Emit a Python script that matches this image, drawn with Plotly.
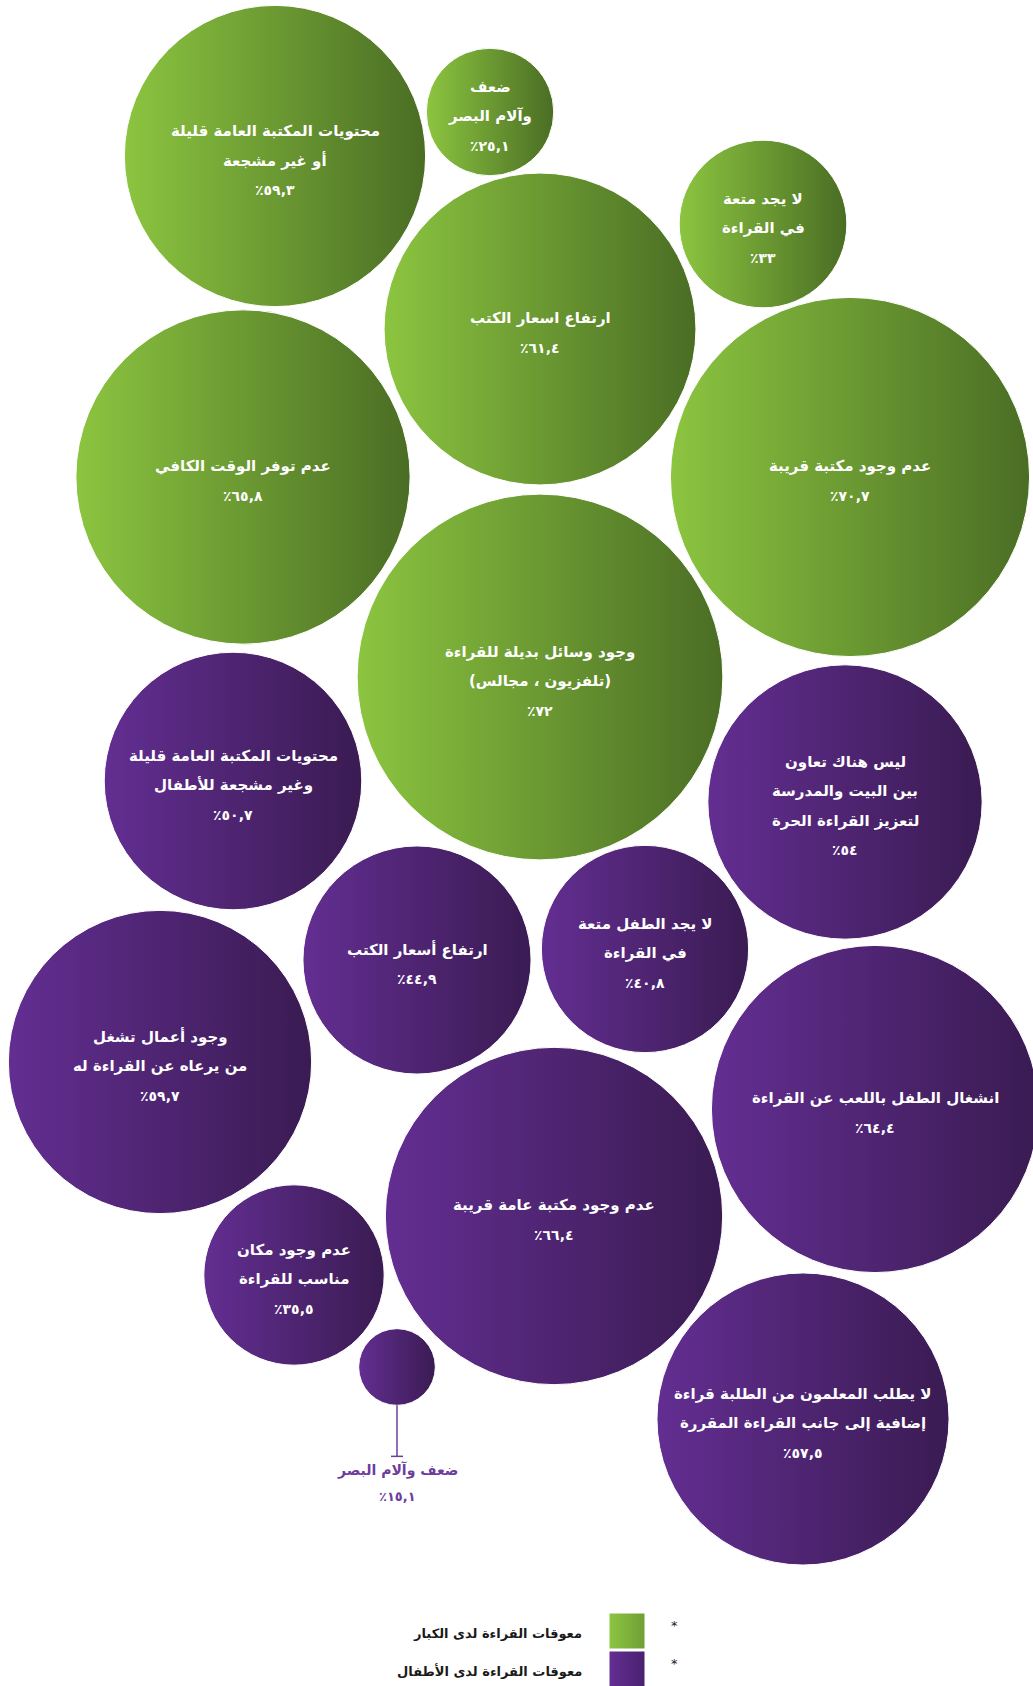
import plotly.graph_objects as go

W, H = 1033, 1686

# ---------------- data ----------------
adult_labels = [
    "محتويات المكتبة العامة قليلة|أو غير مشجعة",
    "ضعف|وآلام البصر",
    "لا يجد متعة|في القراءة",
    "ارتفاع اسعار الكتب",
    "عدم توفر الوقت الكافي",
    "عدم وجود مكتبة قريبة",
    "وجود وسائل بديلة للقراءة|(تلفزيون ، مجالس)",
]
adult_values = [59.3, 25.1, 33, 61.4, 65.8, 70.7, 72]

child_labels = [
    "محتويات المكتبة العامة قليلة|وغير مشجعة للأطفال",
    "ليس هناك تعاون|بين البيت والمدرسة|لتعزيز القراءة الحرة",
    "ارتفاع أسعار الكتب",
    "لا يجد الطفل متعة|في القراءة",
    "وجود أعمال تشغل|من يرعاه عن القراءة له",
    "انشغال الطفل باللعب عن القراءة",
    "عدم وجود مكتبة عامة قريبة",
    "عدم وجود مكان|مناسب للقراءة",
    "ضعف وآلام البصر",
    "لا يطلب المعلمون من الطلبة قراءة|إضافية إلى جانب القراءة المقررة",
]
child_values = [50.7, 54, 44.9, 40.8, 59.7, 64.4, 66.4, 35.5, 15.1, 57.5]

legend_labels = ["معوقات القراءة لدى الكبار", "معوقات القراءة لدى الأطفال"]

# ---------------- layout (pixel positions of bubble centres) ----------------
adult_pos = [(275, 156), (490, 112), (763, 224), (540, 329), (243, 477), (850, 477), (540, 677)]
child_pos = [(233, 781), (845, 802), (417, 960), (645, 949), (160, 1062), (875, 1109),
             (554, 1216), (294, 1275), (397, 1367), (803, 1419)]

PX_PER_PCT = 2.54          # bubble radius in px per percentage point
SMALL = 20                 # bubbles below this get an outside label
LINE_GAP = 29.5
FONT = "DejaVu Sans"

GREEN_L, GREEN_R = "#8cc540", "#4a6d24"
PURP_L, PURP_R = "#632e92", "#3a1b52"
PURP_TXT = "#6c3d9c"

AR_DIGITS = "٠١٢٣٤٥٦٧٨٩"


def ar_pct(v):
    s = f"{v:g}".replace(".", ",")
    s = "".join(AR_DIGITS[int(c)] if c.isdigit() else c for c in s)
    return "٪" + s


fig = go.Figure()
annotations = []
shapes = []


def add_group(labels, values, pos, cl, cr):
    xs = [p[0] for p in pos]
    ys = [p[1] for p in pos]
    fig.add_trace(go.Scatter(
        x=xs, y=ys, mode="markers", hoverinfo="skip", showlegend=False,
        cliponaxis=False,
        marker=dict(size=[2 * PX_PER_PCT * v for v in values], sizemode="diameter",
                    color=cl, opacity=1,
                    gradient=dict(type="horizontal", color=cr),
                    line=dict(color="white", width=1)),
    ))
    for lab, v, (cx, cy) in zip(labels, values, pos):
        lines = lab.split("|")
        r = PX_PER_PCT * v
        if v >= SMALL:
            allines = lines + [ar_pct(v)]
            n = len(allines)
            for i, t in enumerate(allines):
                y = cy + 4 + (i - (n - 1) / 2) * LINE_GAP
                is_pct = i == n - 1
                annotations.append(dict(
                    x=cx, y=y, text="<b>" + t + "</b>", showarrow=False,
                    xanchor="center", yanchor="middle",
                    font=dict(family=FONT, size=14 if is_pct else 15, color="white")))
        else:
            y0 = cy + r
            y1 = y0 + 51
            shapes.append(dict(type="line", x0=cx, x1=cx, y0=y0, y1=y1,
                               line=dict(color=PURP_TXT, width=1.5)))
            shapes.append(dict(type="line", x0=cx - 6, x1=cx + 6, y0=y1, y1=y1,
                               line=dict(color=PURP_TXT, width=1.5)))
            outl = lines + [ar_pct(v)]
            for i, t in enumerate(outl):
                annotations.append(dict(
                    x=cx, y=y1 + 14 + i * 26, text="<b>" + t + "</b>", showarrow=False,
                    xanchor="center", yanchor="middle",
                    font=dict(family=FONT, size=13 if i == len(outl) - 1 else 14, color=PURP_TXT)))


add_group(adult_labels, adult_values, adult_pos, GREEN_L, GREEN_R)
add_group(child_labels, child_values, child_pos, PURP_L, PURP_R)

# legend
leg_y = [1631, 1669]
leg_cols = [(GREEN_L, "#6f9f35"), (PURP_L, "#4a2270")]
fig.add_trace(go.Scatter(
    x=[627, 627], y=leg_y, mode="markers", hoverinfo="skip", showlegend=False,
    cliponaxis=False,
    marker=dict(symbol="square", size=35, color=[c[0] for c in leg_cols],
                gradient=dict(type="horizontal", color=[c[1] for c in leg_cols]),
                line=dict(width=0)),
))
for lab, y in zip(legend_labels, leg_y):
    annotations.append(dict(x=584, y=y + 2, text="<b>" + lab + "</b>", showarrow=False,
                            xanchor="right", yanchor="middle",
                            font=dict(family=FONT, size=13, color="#1a1a1a")))
    annotations.append(dict(x=674, y=y - 6, text="*", showarrow=False,
                            xanchor="center", yanchor="middle",
                            font=dict(family=FONT, size=13, color="#1a1a1a")))

fig.update_layout(
    width=W, height=H, autosize=False,
    margin=dict(l=0, r=0, t=0, b=0, pad=0),
    paper_bgcolor="white", plot_bgcolor="white",
    xaxis=dict(range=[0, W], visible=False, fixedrange=True),
    yaxis=dict(range=[H, 0], visible=False, fixedrange=True),
    annotations=annotations, shapes=shapes,
)

fig.write_html("out.html", config={"displayModeBar": False},
               post_script="document.body.style.margin='0';document.body.style.overflow='hidden';")
